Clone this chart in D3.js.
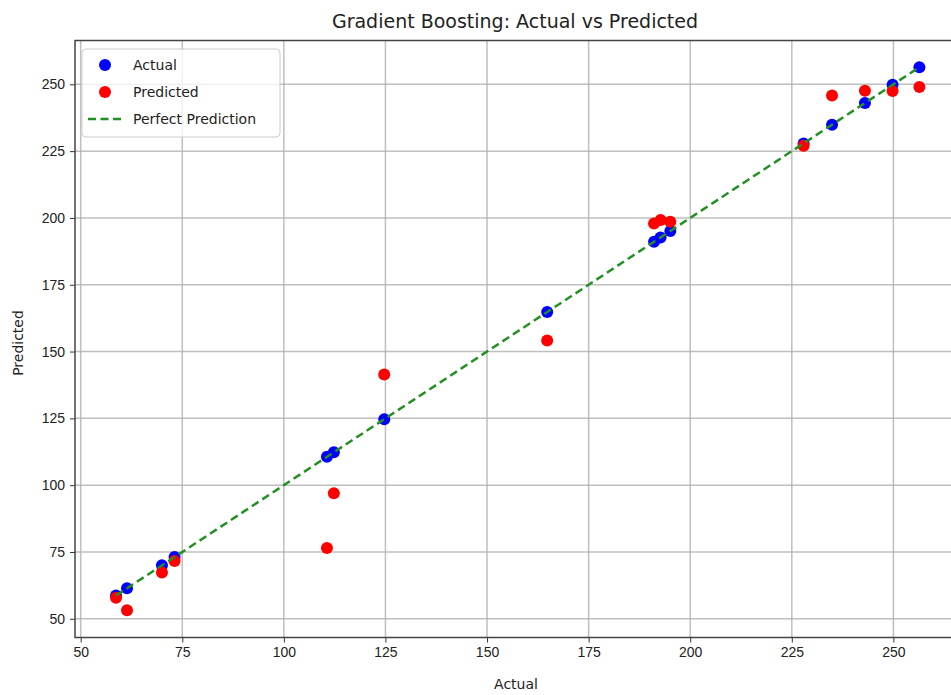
<!DOCTYPE html>
<html>
<head>
<meta charset="utf-8">
<title>Gradient Boosting: Actual vs Predicted</title>
<script src="https://cdn.jsdelivr.net/npm/d3@7"></script>
<style>
    body { margin:0; background:white; font-family:'DejaVu Sans', sans-serif; }
    svg text { fill:#222; }
    .grid line { stroke:#b0b0b0; stroke-width:1.5; opacity:0.8; }
    .axis path { display:none; }
    .axis line { stroke:#333; }
    .axis text { font-size:14px; }
</style>
</head>
<body>
<svg id="chart" width="951" height="695"></svg>
<script>
// test values
const actual = [58.7, 61.4, 70.0, 73.1, 110.6, 112.3, 124.7, 164.8,
                191.1, 192.7, 195.1, 227.9, 234.9, 243.0, 249.8, 256.4];
const predicted = [57.9, 53.2, 67.3, 71.6, 76.5, 97.0, 141.4, 154.1,
                   197.9, 199.2, 198.6, 227.0, 245.8, 247.6, 247.5, 249.0];
const xTicks = [50, 75, 100, 125, 150, 175, 200, 225, 250];
const yTicks = [50, 75, 100, 125, 150, 175, 200, 225, 250];
const legendItems = ["Actual", "Predicted", "Perfect Prediction"];

const plot = { left:75, right:958, top:40.5, bottom:637.5 };

const x = d3.scaleLinear().domain([48.6, 265.9]).range([plot.left, plot.right]);
const y = d3.scaleLinear().domain([43, 266.4]).range([plot.bottom, plot.top]);

const svg = d3.select('#chart');

// grid
svg.append('g').attr('class','grid')
    .selectAll('line.v').data(xTicks).enter().append('line')
    .attr('x1', d => x(d)).attr('x2', d => x(d))
    .attr('y1', plot.top).attr('y2', plot.bottom);
svg.append('g').attr('class','grid')
    .selectAll('line.h').data(yTicks).enter().append('line')
    .attr('x1', plot.left).attr('x2', plot.right)
    .attr('y1', d => y(d)).attr('y2', d => y(d));

// axes
svg.append('g').attr('class','axis')
    .attr('transform', `translate(0,${plot.bottom})`)
    .call(d3.axisBottom(x).tickValues(xTicks).tickSize(5).tickPadding(5));
svg.append('g').attr('class','axis')
    .attr('transform', `translate(${plot.left},0)`)
    .call(d3.axisLeft(y).tickValues(yTicks).tickSize(5).tickPadding(5));

// frame
svg.append('rect')
    .attr('x', plot.left).attr('y', plot.top)
    .attr('width', plot.right - plot.left).attr('height', plot.bottom - plot.top)
    .attr('fill','none').attr('stroke','#444').attr('stroke-width',1.5);

// points
svg.append('g').selectAll('circle').data(actual).enter().append('circle')
    .attr('cx', d => x(d)).attr('cy', d => y(d)).attr('r', 6).attr('fill','blue');
svg.append('g').selectAll('circle').data(predicted).enter().append('circle')
    .attr('cx', (d,i) => x(actual[i])).attr('cy', d => y(d)).attr('r', 6).attr('fill','red');

// perfect prediction line
const lo = d3.min(actual), hi = d3.max(actual);
svg.append('line')
    .attr('x1', x(lo)).attr('y1', y(lo)).attr('x2', x(hi)).attr('y2', y(hi))
    .attr('stroke','#239023').attr('stroke-width',2.5).attr('stroke-dasharray','8,4.5');

// title and labels
svg.append('text').attr('x', 515).attr('y', 28).attr('text-anchor','middle')
    .style('font-size','19px').text('Gradient Boosting: Actual vs Predicted');
svg.append('text').attr('x', 516).attr('y', 689).attr('text-anchor','middle')
    .style('font-size','14px').text('Actual');
svg.append('text').attr('transform','translate(23,343) rotate(-90)').attr('text-anchor','middle')
    .style('font-size','14px').text('Predicted');

// legend
const lg = svg.append('g');
lg.append('rect').attr('x', 82).attr('y', 49).attr('width', 198).attr('height', 88)
    .attr('rx', 4).attr('fill','white').attr('fill-opacity',0.8).attr('stroke','#ccc');
const row = d3.scaleLinear().domain([0, 2]).range([65, 119]);
lg.selectAll('text').data(legendItems).enter().append('text')
    .attr('x', 133).attr('y', (d,i) => row(i) + 5).style('font-size','14px').text(d => d);
lg.append('circle').attr('cx', 105).attr('cy', row(0)).attr('r', 6).attr('fill','blue');
lg.append('circle').attr('cx', 105).attr('cy', row(1)).attr('r', 6).attr('fill','red');
lg.append('line').attr('x1', 88).attr('x2', 121).attr('y1', row(2)).attr('y2', row(2))
    .attr('stroke','#239023').attr('stroke-width',2.5).attr('stroke-dasharray','8,4.5');
</script>
</body>
</html>
